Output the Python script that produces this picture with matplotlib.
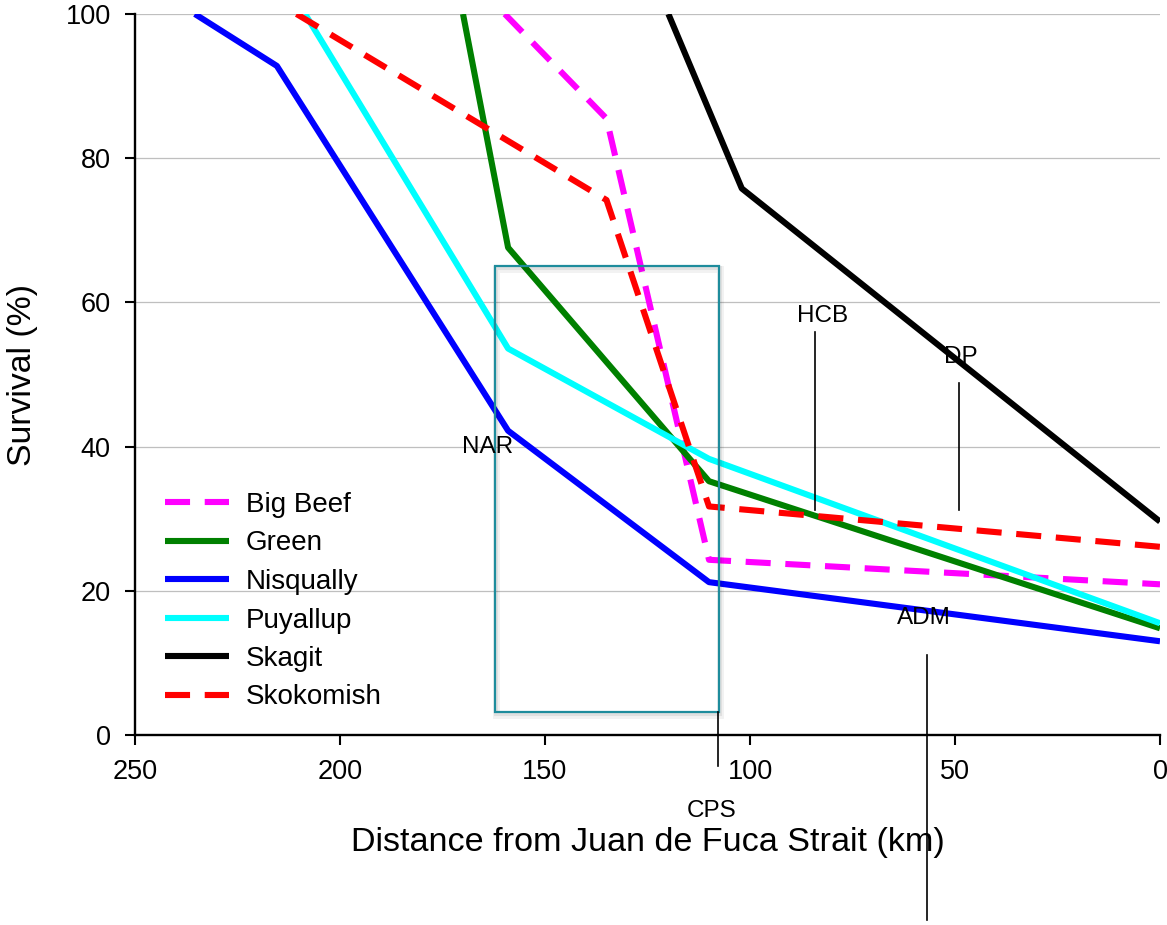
import matplotlib
matplotlib.use("Agg")
import matplotlib.pyplot as plt
from matplotlib.patches import Rectangle
from matplotlib.transforms import offset_copy

plt.rcParams["font.family"] = ["Liberation Sans", "DejaVu Sans"]

# Survival (%) along the migration route, by distance from Juan de Fuca Strait (km)
series_names = ["Big Beef", "Green", "Nisqually", "Puyallup", "Skagit", "Skokomish"]
big_beef_km = [159.8, 135, 110, 0]
big_beef_surv = [100, 85.5, 24.3, 20.9]
green_km = [170, 159, 110, 0]
green_surv = [100, 67.6, 35.2, 14.8]
nisqually_km = [235.4, 215.4, 159, 110, 0]
nisqually_surv = [100, 92.8, 42.2, 21.2, 13.0]
puyallup_km = [208.5, 159, 110, 0]
puyallup_surv = [100, 53.6, 38.3, 15.5]
skagit_km = [119.9, 102, 0]
skagit_surv = [100, 75.8, 29.6]
skokomish_km = [210.6, 135, 110, 0]
skokomish_surv = [100, 74.2, 31.7, 26.1]

x_ticks = [250, 200, 150, 100, 50, 0]
y_ticks = [0, 20, 40, 60, 80, 100]

# Site markers: label, label position, leader line (x, y0, y1)
site_labels = ["NAR", "HCB", "DP", "ADM", "CPS"]
site_label_pos = [(164, 39.9), (82.3, 58.1), (48.5, 52.4), (57.6, 16.2), (109.3, -10.5)]
site_leaders = [None, (84.1, 55.9, 31.2), (49.0, 48.8, 31.2), (56.8, 11.1, -25.7), (107.7, 3.2, -4.3)]

# Highlighted reach
box_km = (107.6, 162.2)
box_surv = (3.2, 65.0)

series = [
    (big_beef_km, big_beef_surv, "#FF00FF", "--"),
    (green_km, green_surv, "#008000", "-"),
    (nisqually_km, nisqually_surv, "#0000FF", "-"),
    (puyallup_km, puyallup_surv, "#00FFFF", "-"),
    (skagit_km, skagit_surv, "#000000", "-"),
    (skokomish_km, skokomish_surv, "#FF0000", "--"),
]

fig = plt.figure(figsize=(11.67, 9.25), dpi=100)
ax = fig.add_axes([135 / 1167, 1 - 735 / 925, (1160 - 135) / 1167, (735 - 14) / 925])

for name, (xs, ys, col, ls) in zip(series_names, series):
    line, = ax.plot(xs, ys, color=col, lw=4.4, label=name, solid_capstyle="butt",
                    dash_capstyle="butt")
    if ls == "--":
        line.set_dashes((4.1, 2.4))

ax.set_xlim(250, 0)
ax.set_ylim(0, 100)
ax.set_xticks(x_ticks)
ax.set_yticks(y_ticks)
ax.tick_params(axis="both", labelsize=19.5, length=7.5, width=1.5, direction="out", pad=10)
ax.yaxis.grid(True, color="#BFBFBF", lw=0.9)
ax.set_axisbelow(True)
for s in ("top", "right"):
    ax.spines[s].set_visible(False)
for s in ("left", "bottom"):
    ax.spines[s].set_linewidth(1.7)

ax.set_xlabel("Distance from Juan de Fuca Strait (km)", fontsize=24.6, labelpad=30)
ax.set_ylabel("Survival (%)", fontsize=24.3, labelpad=20)

# Highlight box with a soft drop shadow
box_w = box_km[1] - box_km[0]
box_h = box_surv[1] - box_surv[0]
for off, a, w in [(3, 0.05, 5), (2, 0.07, 3)]:
    ax.add_patch(Rectangle((box_km[0], box_surv[0]), box_w, box_h, fill=False,
                           edgecolor="black", alpha=a, lw=w, zorder=5, clip_on=False,
                           transform=offset_copy(ax.transData, fig=fig, x=off * 0.5,
                                                 y=-off, units="dots")))
ax.add_patch(Rectangle((box_km[0], box_surv[0]), box_w, box_h, fill=False,
                       edgecolor="#1E8C9C", lw=1.6, zorder=6, clip_on=False))

label_font = ["Liberation Sans Narrow", "Liberation Sans", "DejaVu Sans"]
for lab, (lx, ly), lead in zip(site_labels, site_label_pos, site_leaders):
    ax.text(lx, ly, lab, ha="center", va="center", fontsize=17.5, family=label_font,
            zorder=7, clip_on=False)
    if lead is not None:
        ax.plot([lead[0], lead[0]], [lead[1], lead[2]], color="black", lw=1.2,
                zorder=7, clip_on=False)

leg = ax.legend(loc="upper left", bbox_to_anchor=(165 / 1167, 1 - 492 / 925),
                bbox_transform=fig.transFigure, frameon=False, fontsize=20,
                handlelength=2.3, handletextpad=0.6, labelspacing=0.45,
                borderpad=0, borderaxespad=0)

fig.savefig("out.png", dpi=100)
